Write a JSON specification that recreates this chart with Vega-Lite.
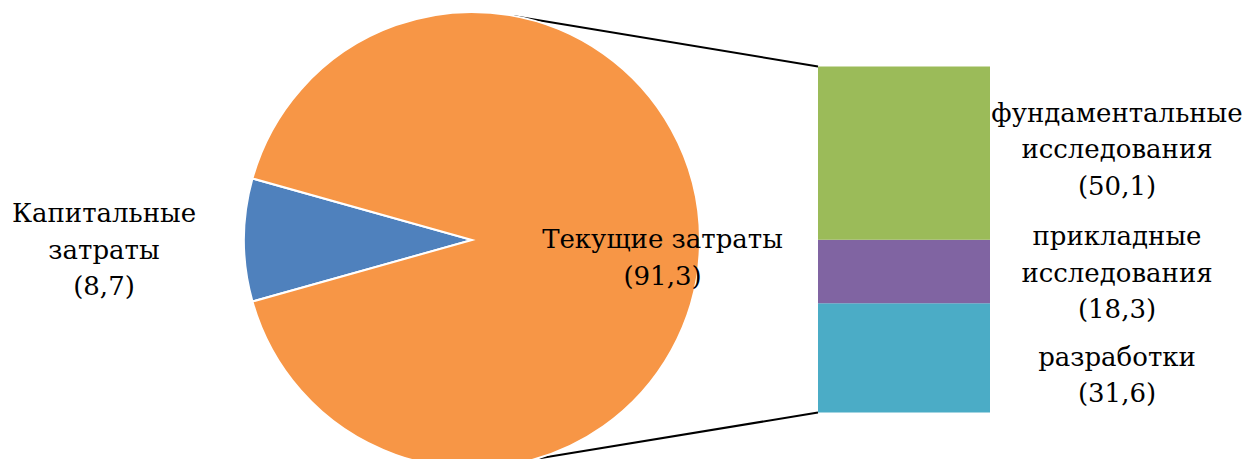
{
  "$schema": "https://vega.github.io/schema/vega-lite/v6.json",
  "width": 1242,
  "height": 459,
  "autosize": {"type": "none"},
  "padding": 0,
  "background": "white",
  "config": {
    "view": {"stroke": null}
  },
  "datasets": {
    "pie": [
      {"cat": "Капитальные затраты", "label": "Капитальные\nзатраты\n(8,7)", "value": 8.7, "ord": 1},
      {"cat": "Текущие затраты", "label": "Текущие затраты\n(91,3)", "value": 91.3, "ord": 2}
    ],
    "bar": [
      {"cat": "разработки", "label": "разработки\n(31,6)", "value": 31.6, "ord": 1},
      {"cat": "прикладные исследования", "label": "прикладные\nисследования\n(18,3)", "value": 18.3, "ord": 2},
      {"cat": "фундаментальные исследования", "label": "фундаментальные\nисследования\n(50,1)", "value": 50.1, "ord": 3}
    ]
  },
  "layer": [
    {
      "data": {"values": [{}]},
      "mark": {"type": "rule", "color": "black", "strokeWidth": 2},
      "encoding": {
        "x": {"datum": 513, "type": "quantitative", "scale": {"domain": [0, 1242], "nice": false, "zero": false}, "axis": null},
        "y": {"datum": 114.6, "type": "quantitative", "scale": {"domain": [-13.44, 119.22], "nice": false, "zero": false}, "axis": null},
        "x2": {"datum": 818},
        "y2": {"datum": 100}
      }
    },
    {
      "data": {"values": [{}]},
      "mark": {"type": "rule", "color": "black", "strokeWidth": 2},
      "encoding": {
        "x": {"datum": 535, "type": "quantitative", "scale": {"domain": [0, 1242], "nice": false, "zero": false}, "axis": null},
        "y": {"datum": -13.44, "type": "quantitative", "scale": {"domain": [-13.44, 119.22], "nice": false, "zero": false}, "axis": null},
        "x2": {"datum": 818},
        "y2": {"datum": 0}
      }
    },
    {
      "data": {"name": "pie"},
      "mark": {"type": "arc", "outerRadius": 228, "stroke": "white", "strokeWidth": 2},
      "encoding": {
        "x": {"datum": 472, "type": "quantitative", "scale": {"domain": [0, 1242], "nice": false, "zero": false}, "axis": null},
        "y": {"datum": 49.855, "type": "quantitative", "scale": {"domain": [-13.44, 119.22], "nice": false, "zero": false}, "axis": null},
        "theta": {"field": "value", "type": "quantitative", "stack": true, "scale": {"range": [4.4391, 10.7223]}},
        "color": {"field": "cat", "type": "nominal", "legend": null, "scale": {"domain": ["Капитальные затраты", "Текущие затраты", "фундаментальные исследования", "прикладные исследования", "разработки"], "range": ["#4F81BD", "#F79646", "#9BBB59", "#8064A2", "#4BACC6"]}},
        "order": {"field": "ord", "type": "quantitative"}
      }
    },
    {
      "data": {"name": "pie"},
      "mark": {"type": "text", "radius": 368, "dy": -25.5, "font": "DejaVu Serif", "fontSize": 26, "lineHeight": 36.5, "lineBreak": "\n", "color": "black", "baseline": "middle", "align": "center"},
      "encoding": {
        "x": {"datum": 472, "type": "quantitative", "scale": {"domain": [0, 1242], "nice": false, "zero": false}, "axis": null},
        "y": {"datum": 49.855, "type": "quantitative", "scale": {"domain": [-13.44, 119.22], "nice": false, "zero": false}, "axis": null},
        "theta": {"field": "value", "type": "quantitative", "stack": true, "scale": {"range": [4.4391, 10.7223]}},
        "detail": {"field": "cat", "type": "nominal"},
        "order": {"field": "ord", "type": "quantitative"},
        "text": {"condition": {"test": "datum.ord == 1", "field": "label"}, "value": ""}
      }
    },
    {
      "data": {"name": "pie"},
      "mark": {"type": "text", "radius": 190.5, "dy": 0, "font": "DejaVu Serif", "fontSize": 26, "lineHeight": 36.5, "lineBreak": "\n", "color": "black", "baseline": "middle", "align": "center"},
      "encoding": {
        "x": {"datum": 472, "type": "quantitative", "scale": {"domain": [0, 1242], "nice": false, "zero": false}, "axis": null},
        "y": {"datum": 49.855, "type": "quantitative", "scale": {"domain": [-13.44, 119.22], "nice": false, "zero": false}, "axis": null},
        "theta": {"field": "value", "type": "quantitative", "stack": true, "scale": {"range": [4.4391, 10.7223]}},
        "detail": {"field": "cat", "type": "nominal"},
        "order": {"field": "ord", "type": "quantitative"},
        "text": {"condition": {"test": "datum.ord == 2", "field": "label"}, "value": ""}
      }
    },
    {
      "data": {"name": "bar"},
      "transform": [{"stack": "value", "groupby": [], "sort": [{"field": "ord", "order": "ascending"}], "as": ["y0", "y1"]}],
      "layer": [
        {
          "mark": {"type": "rect"},
          "encoding": {
            "x": {"datum": 818, "type": "quantitative", "scale": {"domain": [0, 1242], "nice": false, "zero": false}, "axis": null},
            "x2": {"datum": 990},
            "y": {"field": "y0", "type": "quantitative", "scale": {"domain": [-13.44, 119.22], "nice": false, "zero": false}, "axis": null},
            "y2": {"field": "y1"},
            "color": {"field": "cat", "type": "nominal", "legend": null}
          }
        },
        {
          "mark": {"type": "text", "font": "DejaVu Serif", "fontSize": 26, "lineHeight": 36.5, "lineBreak": "\n", "color": "black", "baseline": "middle", "align": "center", "dy": {"expr": "datum.value*0.5*height/132.66 + (datum.ord == 1 ? 0 : datum.ord == 2 ? -34.5 : -39.5)"}},
          "encoding": {
            "x": {"datum": 1117, "type": "quantitative", "scale": {"domain": [0, 1242], "nice": false, "zero": false}, "axis": null},
            "y": {"field": "y1", "type": "quantitative", "scale": {"domain": [-13.44, 119.22], "nice": false, "zero": false}, "axis": null},
            "text": {"field": "label"}
          }
        }
      ]
    }
  ]
}
